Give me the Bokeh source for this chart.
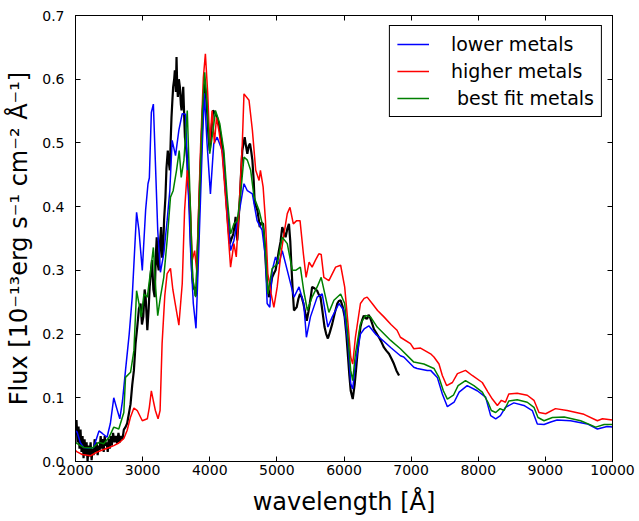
from bokeh.plotting import figure
from bokeh.models import (FixedTicker, PrintfTickFormatter, LinearAxis, Range1d,
                          Legend, LegendItem, CustomJSTickFormatter)
from bokeh.embed import file_html
from bokeh.resources import INLINE

# ---------------- data ----------------
obs_wl = [2000, 2015, 2030, 2045, 2060, 2075, 2090, 2105, 2120, 2135, 2150, 2165, 2180, 2195,
          2210, 2225, 2240, 2255, 2270, 2285, 2300, 2315, 2330, 2345, 2360, 2375, 2390, 2405,
          2420, 2435, 2450, 2465, 2480, 2495, 2510, 2525, 2540, 2560, 2580, 2600, 2620, 2640,
          2660, 2680, 2700, 2720, 2745, 2770, 2795, 2820, 2845, 2870, 2895, 2920, 2945, 2970,
          2990, 3010, 3030, 3045, 3070, 3090, 3105, 3125, 3140, 3160, 3180, 3195, 3210, 3225,
          3240, 3260, 3275, 3290, 3305, 3320, 3340, 3355, 3375, 3390, 3405, 3420, 3430, 3445,
          3455, 3470, 3480, 3495, 3505, 3515, 3525, 3540, 3555, 3570, 3580, 3595, 3605, 3620,
          3630, 3650, 3665, 3685, 3705, 3720, 3740, 3760, 3775, 3790, 3805, 3820, 3840, 3865,
          3890, 3920, 3940, 3960, 3980, 4000, 4025, 4050, 4085, 4110, 4135, 4165, 4200, 4225,
          4250, 4275, 4300, 4325, 4350, 4370, 4385, 4400, 4410, 4430, 4450, 4470, 4485, 4505,
          4520, 4540, 4560, 4580, 4600, 4620, 4635, 4655, 4670, 4690, 4710, 4730, 4745, 4770,
          4795, 4820, 4840, 4855, 4880, 4895, 4915, 4930, 4955, 4980, 5005, 5030, 5055, 5080,
          5105, 5130, 5155, 5180, 5200, 5215, 5235, 5255, 5275, 5295, 5320, 5345, 5370, 5395,
          5420, 5445, 5470, 5490, 5510, 5525, 5560, 5600, 5625, 5650, 5680, 5710, 5735, 5760,
          5790, 5825, 5860, 5900, 5925, 5950, 5980, 6010, 6035, 6060, 6080, 6100, 6130, 6160,
          6180, 6200, 6220, 6245, 6270, 6295, 6320, 6345, 6365, 6385, 6415, 6445, 6480, 6520,
          6560, 6595, 6630, 6670, 6710, 6745, 6780, 6820]
obs_flux = [0.050, 0.065, 0.030, 0.055, 0.020, 0.050, 0.015, 0.040, 0.005, 0.035, 0.010, 0.030,
            0.000, 0.025, 0.008, 0.030, 0.002, 0.020, 0.010, 0.035, 0.015, 0.030, 0.010, 0.025,
            0.018, 0.040, 0.020, 0.035, 0.015, 0.040, 0.025, 0.030, 0.015, 0.035, 0.020, 0.040,
            0.025, 0.045, 0.030, 0.040, 0.028, 0.045, 0.030, 0.040, 0.035, 0.050, 0.054, 0.060,
            0.075, 0.090, 0.120, 0.143, 0.185, 0.211, 0.240, 0.248, 0.215, 0.227, 0.270, 0.258,
            0.206, 0.240, 0.274, 0.300, 0.316, 0.270, 0.258, 0.320, 0.352, 0.310, 0.300, 0.345,
            0.368, 0.320, 0.331, 0.380, 0.415, 0.460, 0.488, 0.470, 0.457, 0.510, 0.540, 0.570,
            0.588, 0.600, 0.614, 0.580, 0.635, 0.590, 0.572, 0.600, 0.588, 0.560, 0.551, 0.575,
            0.588, 0.540, 0.509, 0.490, 0.473, 0.430, 0.394, 0.340, 0.289, 0.270, 0.274, 0.260,
            0.274, 0.330, 0.394, 0.470, 0.535, 0.593, 0.580, 0.551, 0.510, 0.488, 0.520, 0.551,
            0.546, 0.540, 0.530, 0.510, 0.483, 0.445, 0.405, 0.370, 0.342, 0.350, 0.357, 0.370,
            0.384, 0.360, 0.347, 0.380, 0.415, 0.460, 0.488, 0.500, 0.509, 0.495, 0.483, 0.495,
            0.499, 0.485, 0.473, 0.440, 0.405, 0.400, 0.394, 0.380, 0.368, 0.375, 0.373, 0.340,
            0.300, 0.279, 0.258, 0.263, 0.280, 0.289, 0.295, 0.300, 0.315, 0.331, 0.345, 0.368,
            0.360, 0.352, 0.365, 0.373, 0.345, 0.310, 0.270, 0.237, 0.240, 0.242, 0.255, 0.263,
            0.258, 0.248, 0.235, 0.221, 0.235, 0.248, 0.262, 0.274, 0.272, 0.268, 0.262, 0.258,
            0.235, 0.211, 0.200, 0.193, 0.203, 0.216, 0.232, 0.248, 0.252, 0.253, 0.243, 0.227,
            0.200, 0.164, 0.135, 0.111, 0.098, 0.122, 0.145, 0.169, 0.190, 0.211, 0.222, 0.229,
            0.225, 0.224, 0.230, 0.227, 0.218, 0.208, 0.202, 0.195, 0.187, 0.179, 0.174, 0.169,
            0.161, 0.153, 0.143, 0.135]

low_wl = [2000, 2025, 2070, 2120, 2200, 2270, 2310, 2350, 2400, 2470, 2520, 2570, 2610, 2660,
          2700, 2745, 2800, 2845, 2880, 2910, 2945, 2995, 3045, 3080, 3100, 3130, 3160, 3190,
          3225, 3265, 3315, 3365, 3405, 3440, 3490, 3540, 3590, 3640, 3665, 3690, 3715, 3755,
          3795, 3840, 3890, 3920, 3960, 4010, 4060, 4110, 4185, 4260, 4310, 4360, 4435, 4510,
          4560, 4635, 4705, 4780, 4830, 4855, 4895, 4930, 4980, 5030, 5080, 5155, 5255, 5330,
          5400, 5440, 5500, 5600, 5675, 5760, 5825, 5925, 6000, 6060, 6100, 6130, 6170, 6245,
          6300, 6370, 6470, 6580, 6695, 6840, 6890, 7040, 7090, 7240, 7290, 7390, 7465, 7540,
          7640, 7715, 7835, 7985, 8110, 8185, 8260, 8330, 8405, 8530, 8680, 8805, 8880, 8980,
          9080, 9175, 9375, 9625, 9775, 9920, 10000]
low_flux = [0.048, 0.046, 0.030, 0.022, 0.021, 0.022, 0.035, 0.048, 0.044, 0.038, 0.060, 0.100,
            0.085, 0.067, 0.095, 0.143, 0.200, 0.258, 0.330, 0.391, 0.363, 0.300, 0.395, 0.436,
            0.445, 0.548, 0.561, 0.470, 0.363, 0.297, 0.326, 0.378, 0.425, 0.504, 0.480, 0.520,
            0.546, 0.545, 0.467, 0.400, 0.330, 0.248, 0.209, 0.342, 0.499, 0.578, 0.499, 0.420,
            0.499, 0.509, 0.488, 0.394, 0.331, 0.347, 0.389, 0.436, 0.425, 0.420, 0.378, 0.363,
            0.320, 0.248, 0.242, 0.300, 0.321, 0.310, 0.331, 0.300, 0.258, 0.274, 0.248, 0.195,
            0.227, 0.258, 0.263, 0.211, 0.227, 0.248, 0.237, 0.185, 0.122, 0.114, 0.153, 0.200,
            0.208, 0.213, 0.200, 0.190, 0.179, 0.166, 0.164, 0.148, 0.146, 0.143, 0.143, 0.132,
            0.106, 0.086, 0.093, 0.109, 0.119, 0.111, 0.101, 0.072, 0.067, 0.072, 0.085, 0.092,
            0.088, 0.080, 0.059, 0.058, 0.062, 0.065, 0.064, 0.059, 0.051, 0.055, 0.054]

high_wl = [2000, 2025, 2100, 2225, 2325, 2400, 2500, 2570, 2645, 2720, 2770, 2820, 2870, 2920,
           2995, 3070, 3100, 3130, 3160, 3190, 3230, 3260, 3290, 3330, 3365, 3415, 3450, 3490,
           3540, 3590, 3625, 3665, 3705, 3740, 3775, 3805, 3865, 3905, 3935, 3970, 4000, 4035,
           4070, 4100, 4135, 4185, 4250, 4310, 4360, 4395, 4435, 4485, 4510, 4585, 4635, 4685,
           4735, 4755, 4795, 4830, 4865, 4915, 4955, 5005, 5055, 5105, 5155, 5195, 5245, 5295,
           5345, 5395, 5435, 5480, 5525, 5575, 5625, 5660, 5700, 5775, 5875, 5950, 6010, 6060,
           6100, 6130, 6170, 6245, 6300, 6345, 6420, 6500, 6595, 6700, 6790, 6840, 6990, 7040,
           7140, 7290, 7340, 7415, 7465, 7530, 7615, 7690, 7810, 7910, 8060, 8145, 8210, 8285,
           8345, 8405, 8455, 8580, 8730, 8830, 8905, 9005, 9150, 9325, 9575, 9775, 9850, 10000]
high_flux = [0.017, 0.015, 0.011, 0.009, 0.015, 0.018, 0.022, 0.025, 0.029, 0.036, 0.049, 0.070,
             0.084, 0.080, 0.064, 0.067, 0.085, 0.111, 0.095, 0.080, 0.067, 0.080, 0.185, 0.260,
             0.295, 0.303, 0.270, 0.245, 0.214, 0.279, 0.394, 0.457, 0.415, 0.316, 0.331, 0.300,
             0.499, 0.603, 0.640, 0.577, 0.499, 0.551, 0.499, 0.540, 0.520, 0.483, 0.394, 0.305,
             0.342, 0.321, 0.394, 0.499, 0.577, 0.567, 0.520, 0.457, 0.441, 0.457, 0.431, 0.378,
             0.295, 0.263, 0.242, 0.274, 0.321, 0.357, 0.389, 0.399, 0.373, 0.378, 0.378, 0.326,
             0.289, 0.313, 0.305, 0.316, 0.326, 0.325, 0.289, 0.284, 0.305, 0.308, 0.274, 0.216,
             0.164, 0.153, 0.195, 0.248, 0.256, 0.258, 0.248, 0.237, 0.227, 0.215, 0.206, 0.195,
             0.185, 0.177, 0.178, 0.169, 0.164, 0.153, 0.135, 0.119, 0.124, 0.138, 0.143, 0.135,
             0.124, 0.109, 0.098, 0.088, 0.096, 0.093, 0.106, 0.107, 0.104, 0.096, 0.077, 0.075,
             0.083, 0.080, 0.074, 0.064, 0.067, 0.065]

best_wl = [2000, 2025, 2125, 2250, 2350, 2420, 2500, 2570, 2645, 2720, 2745, 2820, 2870, 2910,
           2945, 2980, 3020, 3070, 3120, 3160, 3190, 3225, 3265, 3315, 3365, 3415, 3455, 3505,
           3545, 3575, 3615, 3665, 3705, 3745, 3790, 3840, 3890, 3925, 3960, 4000, 4050, 4085,
           4150, 4210, 4260, 4310, 4360, 4410, 4460, 4510, 4560, 4610, 4660, 4735, 4805, 4830,
           4865, 4930, 5005, 5080, 5155, 5230, 5280, 5350, 5400, 5455, 5525, 5600, 5660, 5725,
           5775, 5850, 5950, 6010, 6060, 6100, 6130, 6170, 6245, 6320, 6395, 6495, 6695, 6840,
           7040, 7190, 7340, 7415, 7480, 7540, 7630, 7700, 7810, 7935, 8060, 8145, 8195, 8260,
           8325, 8385, 8455, 8580, 8730, 8830, 8890, 8980, 9105, 9280, 9525, 9750, 9875, 10000]
best_flux = [0.030, 0.028, 0.022, 0.021, 0.030, 0.028, 0.038, 0.054, 0.051, 0.077, 0.132, 0.140,
             0.174, 0.268, 0.248, 0.227, 0.263, 0.258, 0.300, 0.336, 0.279, 0.229, 0.258, 0.289,
             0.347, 0.415, 0.425, 0.457, 0.488, 0.446, 0.473, 0.551, 0.420, 0.289, 0.258, 0.394,
             0.551, 0.611, 0.561, 0.483, 0.520, 0.551, 0.530, 0.488, 0.415, 0.357, 0.373, 0.378,
             0.420, 0.478, 0.473, 0.457, 0.415, 0.394, 0.363, 0.330, 0.263, 0.303, 0.310, 0.352,
             0.342, 0.300, 0.300, 0.305, 0.268, 0.237, 0.258, 0.274, 0.289, 0.258, 0.234, 0.253,
             0.263, 0.248, 0.195, 0.143, 0.127, 0.169, 0.216, 0.229, 0.227, 0.211, 0.190, 0.177,
             0.156, 0.153, 0.146, 0.132, 0.111, 0.098, 0.104, 0.119, 0.127, 0.119, 0.109, 0.093,
             0.080, 0.077, 0.083, 0.080, 0.095, 0.097, 0.093, 0.085, 0.069, 0.064, 0.069, 0.070,
             0.064, 0.054, 0.058, 0.058]

x_ticks = [2000, 3000, 4000, 5000, 6000, 7000, 8000, 9000, 10000]
y_ticks = [0.0, 0.1, 0.2, 0.3, 0.4, 0.5, 0.6, 0.7]
series_labels = ["lower metals", "higher metals", " best fit metals"]

FONT = "DejaVu Sans"

p = figure(width=639, height=521, output_backend="svg", toolbar_location=None,
           x_range=Range1d(2000, 10000), y_range=Range1d(0, 0.7),
           min_border_left=75, min_border_right=27, min_border_top=15, min_border_bottom=60)
p.xgrid.visible = False
p.ygrid.visible = False
p.outline_line_color = "black"
p.outline_line_width = 1
p.outline_line_alpha = 1
p.background_fill_color = "white"
p.border_fill_color = "white"


def style_axis(ax, ticks, fmt):
    ax.ticker = FixedTicker(ticks=ticks)
    ax.formatter = fmt
    ax.major_tick_in = 5
    ax.major_tick_out = 0
    ax.minor_tick_in = 0
    ax.minor_tick_out = 0
    ax.axis_line_color = "black"
    ax.major_tick_line_color = "black"
    ax.major_label_text_font = FONT
    ax.major_label_text_font_size = "14px"
    ax.major_label_text_color = "black"
    ax.axis_label_text_font = FONT
    ax.axis_label_text_font_size = "24px"
    ax.axis_label_text_font_style = "normal"
    ax.axis_label_text_color = "black"


style_axis(p.xaxis[0], x_ticks, PrintfTickFormatter(format="%d"))
style_axis(p.yaxis[0], y_ticks, PrintfTickFormatter(format="%.1f"))
p.xaxis[0].major_label_standoff = 3
p.yaxis[0].major_label_standoff = 11
p.xaxis[0].axis_label = "wavelength [Å]"
p.yaxis[0].axis_label = "Flux [10⁻¹³erg s⁻¹ cm⁻² Å⁻¹]"
p.xaxis[0].axis_label_standoff = 10
p.yaxis[0].axis_label_standoff = 6

empty = CustomJSTickFormatter(code="return ''")
top = LinearAxis()
style_axis(top, x_ticks, empty)
top.major_label_text_font_size = "0px"
top.major_label_standoff = 0
p.add_layout(top, "above")
right = LinearAxis()
style_axis(right, y_ticks, empty)
right.major_label_text_font_size = "0px"
right.major_label_standoff = 0
p.add_layout(right, "right")

p.line(obs_wl, obs_flux, line_color="black", line_width=2.2)
r_low = p.line(low_wl, low_flux, line_color="#0000ff", line_width=1.5)
r_high = p.line(high_wl, high_flux, line_color="#ff0000", line_width=1.5)
r_best = p.line(best_wl, best_flux, line_color="#008000", line_width=1.5)

legend = Legend(items=[LegendItem(label=series_labels[0], renderers=[r_low]),
                       LegendItem(label=series_labels[1], renderers=[r_high]),
                       LegendItem(label=series_labels[2], renderers=[r_best])],
                location="top_right")
legend.border_line_color = "black"
legend.border_line_width = 1
legend.border_line_alpha = 1
legend.background_fill_color = "white"
legend.background_fill_alpha = 1
legend.label_text_font = FONT
legend.label_text_font_size = "19px"
legend.label_text_color = "black"
legend.glyph_width = 32
legend.glyph_height = 22
legend.label_height = 22
legend.label_standoff = 22
legend.padding = 7
legend.spacing = 5
legend.margin = 10
p.add_layout(legend)

open("out.html", "w").write(file_html(p, INLINE))
